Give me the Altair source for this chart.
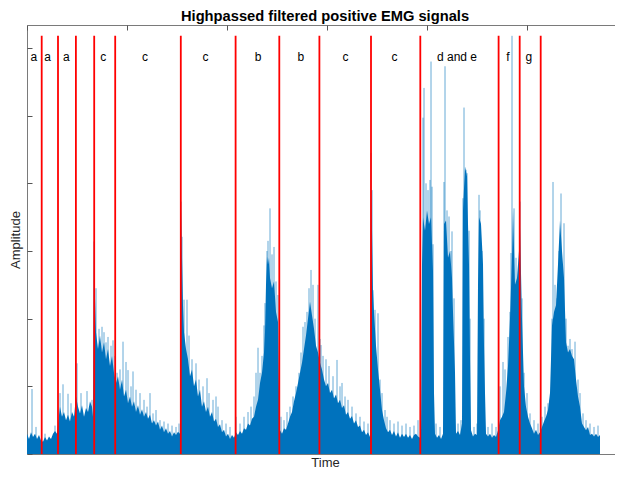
import altair as alt
import pandas as pd

title_text = "Highpassed filtered positive EMG signals"
x_title = "Time"
y_title = "Amplitude"

# dense body of the rectified EMG (time in samples/100-ish units, amplitude in axis units)
body_time = [0, 2, 4, 6, 8, 10, 12, 14, 16, 18, 20, 22, 24, 26, 28, 30, 31, 33, 35, 37, 39, 41, 43, 45, 47, 49, 51, 53, 55, 57, 59, 61, 63, 65, 66,
             67, 68, 69, 71, 73, 75, 77, 79, 81, 83, 85, 87, 89, 91, 93, 95, 97, 99, 101, 103, 105, 107, 109, 111, 113, 115, 117, 119, 121, 123, 125,
             127, 129, 131, 133, 135, 137, 139, 141, 143, 145, 147, 149, 151, 153,
             154, 155, 156, 157, 159, 161, 163, 165, 167, 169, 171, 173, 175, 177, 179, 181, 183, 185, 187, 189, 191, 193, 195, 197, 199, 201, 203,
             205, 207, 209, 211, 213, 215, 217, 219, 221, 223, 225, 227, 229, 231, 233, 235, 237, 238, 239, 240, 241, 242, 243, 245, 247, 249, 251, 252,
             253, 255, 257, 259, 261, 263, 265, 267, 269, 271, 273, 275, 277, 279, 281, 283, 285, 287, 289, 291, 293, 295, 297, 299, 301, 303, 305, 307,
             309, 311, 313, 315, 317, 319, 321, 323, 325, 327, 329, 331, 333, 335, 337, 339, 341, 343,
             344, 345, 346, 347, 349, 351, 353, 355, 357, 359, 361, 363, 365, 367, 369, 371, 373, 375, 377, 379, 381, 383, 385, 387, 389, 391, 393, 394,
             395, 396, 398, 400, 402, 404, 405, 406, 407, 408, 410, 412, 414, 416, 417, 419, 421, 423, 425, 426, 428, 429, 431, 433, 435,
             436, 438, 440, 441, 442, 443, 444, 446, 448, 450, 451, 452, 454, 456, 457, 458, 459, 461, 463, 465, 467, 469, 471, 473, 475, 477, 479, 481,
             483, 485, 486, 488, 490, 492, 493, 495, 497, 499, 501, 503, 505, 507, 509, 511, 513, 515, 517, 519, 521, 523, 525, 527, 529, 531, 533, 535,
             537, 539, 541, 543, 545, 547, 549, 551, 553, 555, 557, 559, 561, 563, 565, 567, 569, 571, 573]
body_amp = [0.30, 0.22, 0.32, 0.25, 0.30, 0.22, 0.28, 0.20, 0.18, 0.25, 0.20, 0.26, 0.22, 0.30, 0.34, 0.30, 0.45, 0.70, 0.55, 0.62, 0.50, 0.58, 0.48, 0.62, 0.55, 0.85, 0.70, 0.60, 0.72, 0.55, 0.68, 0.62, 0.78, 0.70, 0.55,
            3.0, 2.3, 1.8, 1.55, 1.75, 1.50, 1.65, 1.40, 1.55, 1.30, 1.45, 1.20, 1.05, 1.15, 0.95, 1.10, 0.85, 0.95, 0.75, 0.85, 0.70, 0.78, 0.62, 0.72, 0.58, 0.66, 0.55, 0.62, 0.52, 0.58, 0.45,
            0.50, 0.42, 0.48, 0.36, 0.42, 0.32, 0.38, 0.30, 0.34, 0.26, 0.32, 0.28, 0.33, 0.30,
            3.6, 2.9, 2.2, 1.8, 1.55, 1.40, 1.15, 1.25, 1.0, 1.10, 0.85, 0.95, 0.70, 0.78, 0.62, 0.70, 0.55, 0.62, 0.48, 0.52, 0.40, 0.44, 0.32, 0.36, 0.26, 0.30, 0.22,
            0.28, 0.24, 0.32, 0.28, 0.34, 0.30, 0.38, 0.36, 0.45, 0.42, 0.52, 0.55, 0.70, 0.80, 1.05, 1.20, 1.50, 1.80, 2.50, 2.92, 2.80, 2.90, 2.60, 2.45, 2.55, 2.10, 1.95, 0.9,
            0.35, 0.30, 0.38, 0.36, 0.45, 0.55, 0.62, 0.78, 0.90, 1.05, 1.20, 1.35, 1.55, 1.75, 2.0, 2.25, 2.05, 1.85, 1.60, 1.50, 1.35, 1.25, 1.10, 1.00, 1.05, 0.90, 0.95, 0.82,
            0.88, 0.75, 0.80, 0.68, 0.72, 0.58, 0.62, 0.52, 0.56, 0.45, 0.50, 0.40, 0.42, 0.32, 0.36, 0.28, 0.32, 0.25,
            3.9, 3.3, 2.4, 2.1, 1.6, 1.25, 0.95, 0.65, 0.50, 0.38, 0.32, 0.36, 0.28, 0.34, 0.26, 0.32, 0.24, 0.30, 0.25, 0.30, 0.24, 0.28, 0.22, 0.28, 0.30, 0.26, 0.24, 0.30,
            2.8, 3.5, 3.3, 3.6, 3.4, 3.5, 3.1, 2.7, 0.9, 0.30, 0.24, 0.28, 0.22, 0.30, 3.4, 3.45, 2.9, 3.0, 2.6, 2.1, 1.2, 0.30, 0.34, 0.28, 0.45,
            3.6, 4.25, 4.1, 3.4, 2.8, 1.4, 0.35, 0.26, 0.30, 0.28, 2.5, 3.5, 3.4, 2.8, 1.6, 0.9, 0.30, 0.26, 0.30, 0.24, 0.28, 0.25, 0.35, 0.50, 0.55, 0.62, 0.90, 1.30,
            2.0, 2.9, 3.6, 2.5, 2.6, 3.0, 3.35, 2.0, 1.0, 0.70, 0.55, 0.45, 0.38, 0.30, 0.36, 0.28, 0.32, 0.40, 0.48, 0.55, 0.65, 0.90, 1.9, 2.1, 2.2, 2.8, 3.45, 3.0,
            2.6, 1.65, 1.5, 1.55, 1.45, 1.40, 1.10, 0.85, 0.70, 0.45, 0.40, 0.35, 0.40, 0.28, 0.30, 0.26, 0.30, 0.25, 0.28]

# isolated high samples (spikes) drawn in lighter blue
spike_time = [5, 9, 18, 28, 33, 36, 41, 44, 50, 54, 60, 65, 67, 69, 72, 75, 77, 79, 81, 84, 86, 88, 90, 93, 96, 99, 101, 104, 106, 109, 113, 117,
              120, 123, 126, 129, 133, 137, 141, 145, 149, 152, 154, 155, 157, 160, 162, 165, 169, 172, 176, 180, 182, 186, 189, 191, 195, 199, 203,
              209, 213, 217, 221, 224, 227, 229, 231, 233, 235, 237, 238, 240, 241, 243, 245, 247, 249, 251, 254, 257, 260, 263, 266, 269, 272, 274,
              276, 278, 280, 282, 284, 286, 288, 291, 293, 294, 296, 299, 302, 306, 310, 313, 315, 318, 321, 325, 329, 333, 337, 341, 344, 345, 346,
              348, 351, 353, 355, 358, 360, 363, 367, 371, 375, 379, 383, 387, 391, 396, 397, 399, 401, 403, 404, 405, 406, 409, 413, 417, 418, 420,
              422, 424, 425, 427, 431, 434, 436, 437, 439, 440, 442, 443, 447, 450, 452, 453, 455, 457, 461, 465, 469, 473, 476, 478, 481, 483, 484,
              485, 487, 489, 491, 493, 495, 497, 500, 503, 507, 511, 515, 518, 521, 523, 525, 526, 528, 530, 532, 534, 537, 539, 541, 543, 545, 548,
              551, 553, 556, 559, 563, 567, 571]
spike_amp = [0.96, 0.40, 0.30, 0.42, 0.90, 1.03, 0.89, 0.75, 1.34, 0.90, 0.93, 0.80, 3.14, 2.45, 1.85, 1.88, 1.80, 1.65, 1.73, 1.60, 1.68, 1.45, 1.20,
             1.25, 1.66, 1.36, 1.24, 1.00, 1.22, 0.95, 0.90, 0.80, 0.70, 0.90, 0.60, 0.65, 0.50, 0.48, 0.45, 0.42, 0.40, 0.45, 3.73, 3.21, 2.28, 2.28,
             1.75, 1.40, 1.34, 1.10, 1.00, 1.12, 0.90, 0.80, 0.85, 0.70, 0.50, 0.45, 0.40, 0.55, 0.45, 0.55, 0.62, 0.70, 0.85, 1.20, 1.57, 1.20, 1.45,
             1.90, 2.23, 3.0, 3.15, 3.63, 2.95, 3.06, 2.55, 2.35, 0.55, 0.50, 0.62, 0.70, 0.85, 1.00, 1.20, 1.50, 1.88, 1.95, 2.10, 2.45, 2.72, 2.50,
             2.0, 2.5, 1.7, 1.61, 1.45, 1.40, 1.30, 1.15, 1.39, 1.00, 1.05, 0.85, 0.80, 0.70, 0.60, 0.55, 0.48, 0.45, 4.45, 3.9, 2.42, 2.13, 2.08,
             1.10, 0.90, 0.65, 0.55, 0.50, 0.45, 0.48, 0.42, 0.45, 0.40, 0.42, 0.50, 4.97, 5.41, 4.00, 3.90, 4.05, 5.80, 3.95, 3.10, 0.45, 0.40, 4.02,
             5.73, 3.60, 3.51, 3.00, 3.29, 2.3, 0.45, 0.50, 3.78, 5.12, 4.20, 4.15, 3.3, 2.0, 0.40, 0.45, 3.83, 3.6, 3.0, 2.0, 0.40, 0.45, 0.40, 1.00,
             1.36, 1.25, 1.73, 2.1, 2.97, 6.18, 3.63, 2.9, 2.5, 3.73, 2.3, 1.2, 0.90, 0.60, 0.50, 0.45, 0.55, 0.70, 0.75, 0.80, 2.0, 4.02, 2.5, 2.3,
             3.0, 3.85, 3.41, 2.0, 1.60, 1.70, 1.55, 1.66, 1.10, 0.90, 0.60, 0.50, 0.45, 0.40, 0.42]

# segment boundaries (red lines) and segment labels
boundary_time = [14.7, 31, 48.9, 67.2, 88.2, 153.8, 208.6, 252.3, 292.4, 344, 393.3, 471.6, 492.7, 513.7]
boundary_top = 6.18
label_time = [6.8, 20.7, 39.3, 76.3, 118, 178.4, 231.2, 273.8, 318.6, 367.5, 430, 481, 501.8]
label_text = ["a", "a", "a", "c", "c", "c", "b", "b", "c", "c", "d and e", "f", "g"]
label_level = 5.87

x_ticks = [0, 100, 200, 300, 400, 500]
y_ticks = [0, 1, 2, 3, 4, 5, 6]
x_max = 596
y_max = 6.34

body_df = pd.DataFrame({"time": body_time, "amp": body_amp})
spike_df = pd.DataFrame({"time": spike_time, "amp": spike_amp, "base": [0.0] * len(spike_time)})
bound_df = pd.DataFrame({"time": boundary_time, "bottom": [0.0] * len(boundary_time), "top": [boundary_top] * len(boundary_time)})
label_df = pd.DataFrame({"time": label_time, "label": label_text, "level": [label_level] * len(label_time)})

FONT = "Liberation Sans"
BLUE = "#0072BD"
xs = alt.Scale(domain=[0, x_max], nice=False, zero=False)
ys = alt.Scale(domain=[0, y_max], nice=False, zero=False)

x_bottom = alt.Axis(title=x_title, labels=False, ticks=False, domain=False, grid=False,
                    titleFont=FONT, titleFontSize=13, titleFontWeight="normal", titleColor="#262626", titlePadding=2)
y_left = alt.Axis(title=y_title, labels=False, values=y_ticks, tickSize=5, offset=-5, domain=False, grid=False,
                  tickColor="#555555", titleFont=FONT, titleFontSize=13, titleFontWeight="normal", titleColor="#262626",
                  titlePadding=4)
x_top = alt.Axis(orient="top", title=None, labels=False, values=x_ticks, tickSize=5, offset=-5, domain=False,
                 grid=False, tickColor="#555555")
y_right = alt.Axis(orient="right", title=None, labels=False, values=y_ticks, tickSize=5, offset=-5, domain=False,
                   grid=False, tickColor="#555555")

spikes = alt.Chart(spike_df).mark_rule(strokeWidth=1, color=BLUE, opacity=0.6).encode(
    x=alt.X("time:Q", scale=xs, axis=x_bottom),
    y=alt.Y("amp:Q", scale=ys, axis=y_left),
    y2="base:Q",
)

body = alt.Chart(body_df).mark_area(color=BLUE, opacity=1, interpolate="linear").encode(
    x=alt.X("time:Q", scale=xs, axis=x_top),
    y=alt.Y("amp:Q", scale=ys, axis=y_right),
)

rules = alt.Chart(bound_df).mark_rule(color="#FF0000", strokeWidth=1.8).encode(
    x=alt.X("time:Q", scale=xs, axis=None),
    y=alt.Y("bottom:Q", scale=ys, axis=None),
    y2="top:Q",
)

labels = alt.Chart(label_df).mark_text(font=FONT, fontSize=12, color="black").encode(
    x=alt.X("time:Q", scale=xs, axis=None),
    y=alt.Y("level:Q", scale=ys, axis=None),
    text="label:N",
)

chart = alt.layer(spikes, body, rules, labels).resolve_axis(
    x="independent", y="independent"
).properties(
    width=596,
    height=429,
    title=alt.Title(title_text, font=FONT, fontSize=14.7, fontWeight="bold", color="black",
                    anchor="middle", baseline="alphabetic", offset=6, dy=17),
    autosize=alt.AutoSizeParams(type="none"),
    padding={"left": 19, "top": 17, "right": -8, "bottom": 14},
).configure_view(stroke="#7a7a7a", strokeWidth=1)

chart.save("out.html", embed_options={"renderer": "svg", "actions": False})
